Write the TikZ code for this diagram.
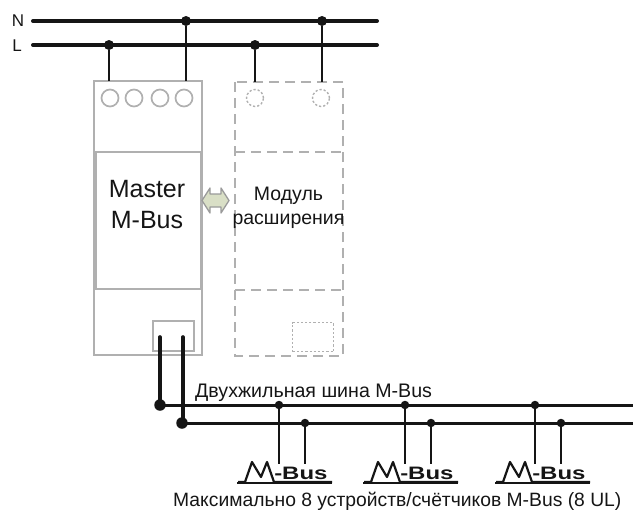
\documentclass[tikz,border=0pt]{standalone}
\usepackage{fontspec}
\setmainfont{Liberation Sans}
\definecolor{boxgray}{HTML}{B0B0B0}
\definecolor{arrowfill}{HTML}{D9DFC6}
\definecolor{arrowline}{HTML}{9A9A9A}
\definecolor{ink}{HTML}{151515}
\tikzset{
  x=1pt,y=-1pt,
  solidbox/.style={draw=boxgray,line width=2pt},
  dashbox/.style={draw=boxgray,line width=1.6pt,dash pattern=on 10pt off 6pt},
  dotbox/.style={draw=boxgray,line width=1.4pt,dash pattern=on 2.2pt off 2pt},
  rail/.style={draw=ink,line width=4pt,line cap=round},
  busline/.style={draw=ink,line width=3pt},
  drop/.style={draw=ink,line width=2pt},
  feed/.style={draw=ink,line width=3.6pt,line cap=round},
  dotbig/.style={circle,fill=ink,inner sep=0pt,minimum size=10pt},
  dotmid/.style={circle,fill=ink,inner sep=0pt,minimum size=8.5pt},
  dotlarge/.style={circle,fill=ink,inner sep=0pt,minimum size=11.5pt},
  lbl/.style={inner sep=0pt,text=ink},
  pulse/.style={draw=ink,line width=2.2pt,line join=round},
}
\newcommand{\mbuslogo}[2]{%
  \draw[pulse] (#1+1,#2-1) -- (#1+8,#2-1) -- (#1+15,#2-21) -- (#1+24,#2-6) -- (#1+30,#2-21) -- (#1+37,#2-1) -- (#1+95,#2-1);
  \draw[draw=ink,line width=2.2pt] (#1,#2) -- ++(95,0);
  \node[lbl,anchor=base west,font=\bfseries\fontsize{18}{18}\selectfont,xscale=1.33] at (#1+37,#2-4) {-Bus};
}
\begin{document}
\begin{tikzpicture}
\useasboundingbox (0,0) rectangle (634,514);
% rails
\coordinate (nw) at (33,21); \coordinate (ne) at (377,21);
\coordinate (lw) at (33,45); \coordinate (le) at (377,45);
\path[rail] (nw) -- (ne);
\path[rail] (lw) -- (le);
\node[lbl,font=\fontsize{17}{17}\selectfont] (N) at (18,21) {N};
\node[lbl,font=\fontsize{17}{17}\selectfont] (L) at (17,46) {L};
\node[dotbig] (n1) at (186,21) {};
\node[dotbig] (n2) at (322,21) {};
\node[dotbig] (l1) at (109,45) {};
\node[dotbig] (l2) at (255,45) {};
% master
\node[solidbox,minimum width=108pt,minimum height=274pt,inner sep=0pt,outer sep=0pt,anchor=north west] (master) at (94,81) {};
\draw[solidbox] (95.5,152) rectangle (200.5,289);
\node[lbl,font=\fontsize{25}{31}\selectfont,align=center] (mtext) at (147,205) {Master\\M-Bus};
\foreach \x/\n in {110/a,134/b,160/c,184/d}
  \node[circle,draw=boxgray,line width=1.7pt,minimum size=17pt,inner sep=0pt] (t\n) at (\x,98) {};
\node[solidbox,minimum width=41pt,minimum height=30pt,inner sep=0pt,anchor=north west] (term) at (152,320) {};
% module
\draw[dashbox] (235,82) rectangle (343,356);
\draw[dashbox] (235,152) -- (343,152);
\draw[dashbox] (235,290) -- (343,290);
\foreach \x/\n in {255/e,321/f}
  \node[circle,dotbox,minimum size=17pt,inner sep=0pt] (t\n) at (\x,98) {};
\node[dotbox,minimum width=41pt,minimum height=29pt,inner sep=0pt,anchor=north west] (sm) at (292,322) {};
\node[lbl,font=\fontsize{19.5}{24}\selectfont,align=center] (modtext) at (288.5,208) {Модуль\\расширения};
% double arrow
\draw[draw=arrowline,fill=arrowfill,line width=1.3pt,line join=round]
  (202,200.5) -- (210,188) -- (210,194) -- (221,194) -- (221,188) -- (229,200.5)
  -- (221,213) -- (221,207) -- (210,207) -- (210,213) -- cycle;
% drops
\coordinate (m1) at (109,81); \coordinate (m2) at (186,81);
\coordinate (e1) at (255,82); \coordinate (e2) at (322,82);
\draw[drop] (l1) -- (m1);
\draw[drop] (n1) -- (m2);
\draw[drop] (l2) -- (e1);
\draw[drop] (n2) -- (e2);
% M-Bus lines
\coordinate (b1) at (160,405); \coordinate (b2) at (182,423);
\coordinate (be1) at (633,405); \coordinate (be2) at (633,423);
\path[busline] (b1) -- (be1);
\path[busline] (b2) -- (be2);
\coordinate (f1) at (160,337); \coordinate (f2) at (183,337);
\path[feed] (f1) -- (b1);
\path[feed] (f2) -- (183,423);
\node[dotlarge] (bd1) at (b1) {};
\node[dotlarge] (bd2) at (b2) {};
\node[lbl,anchor=base west,font=\fontsize{19.6}{20}\selectfont] (bt) at (195,397) {Двухжильная шина M-Bus};
% devices
\foreach \xa/\xb/\xl/\n in {279/305/237/1,405/431/363/2,535/561/495/3}{
  \node[dotmid] (ta\n) at (\xa,405) {};
  \node[dotmid] (tb\n) at (\xb,423) {};
  \coordinate (da\n) at (\xa,464);
  \coordinate (db\n) at (\xb,464);
  \draw[drop] (ta\n) -- (da\n);
  \draw[drop] (tb\n) -- (db\n);
  \mbuslogo{\xl}{483}
}
\node[lbl,anchor=base west,font=\fontsize{19.3}{20}\selectfont] (ft) at (173,506) {Максимально 8 устройств/счётчиков M-Bus (8 UL)};
\end{tikzpicture}
\end{document}
